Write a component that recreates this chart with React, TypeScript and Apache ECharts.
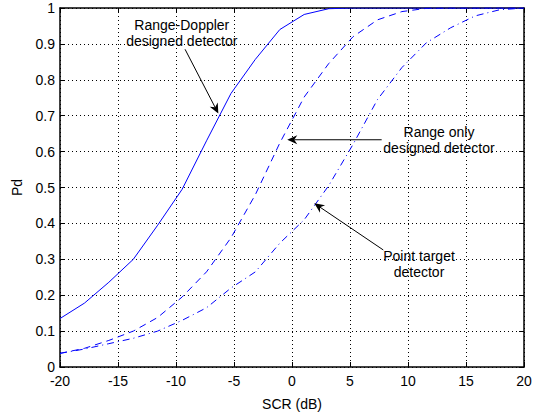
import React, { useEffect, useRef } from "react";
import * as echarts from "echarts";

const scr = [-20, -17.89, -15.79, -13.68, -11.58, -9.47, -7.37, -5.26, -3.16, -1.05, 1.05, 3.16, 5.26, 7.37, 9.47, 11.58, 13.68, 15.79, 17.89, 20];
const rangeDoppler = [0.135, 0.178, 0.236, 0.3, 0.395, 0.495, 0.63, 0.762, 0.857, 0.94, 0.982, 0.998, 1, 1, 1, 1, 1, 1, 1, 1];
const rangeOnly = [0.038, 0.052, 0.074, 0.1, 0.138, 0.195, 0.265, 0.36, 0.48, 0.624, 0.752, 0.845, 0.92, 0.967, 0.99, 0.999, 1, 1, 1, 1];
const pointTarget = [0.038, 0.05, 0.065, 0.08, 0.1, 0.13, 0.165, 0.22, 0.265, 0.345, 0.41, 0.505, 0.62, 0.745, 0.834, 0.903, 0.945, 0.978, 0.995, 1];

const xTicks = [-20, -15, -10, -5, 0, 5, 10, 15, 20];
const yTicks = [0, 0.1, 0.2, 0.3, 0.4, 0.5, 0.6, 0.7, 0.8, 0.9, 1];

// annotations in data coordinates
const annotations = [
  { lines: ["Range-Doppler", "designed detector"], at: [-9.5, 0.931], from: [-9.22, 0.885], to: [-6.35, 0.706] },
  { lines: ["Range only", "designed detector"], at: [12.67, 0.633], from: [7.73, 0.633], to: [-0.41, 0.633] },
  { lines: ["Point target", "detector"], at: [10.95, 0.288], from: [7.87, 0.326], to: [1.92, 0.456] },
];

const FONT = '"Liberation Sans", Arial, Helvetica, sans-serif';

export default function App() {
  const ref = useRef<HTMLDivElement>(null);
  useEffect(() => {
    if (!ref.current) return;
    const chart = echarts.init(ref.current, undefined, { renderer: "svg" });
    const mk = (arr: number[]) => scr.map((x, i) => [x, arr[i]]);
    const dotted = { color: "#000", width: 1, type: [1, 3] as any };
    chart.setOption({
      animation: false,
      backgroundColor: "#fff",
      textStyle: { fontFamily: FONT },
      grid: { left: 60, right: 12, top: 8, bottom: 44, containLabel: false },
      xAxis: [
        {
          type: "value", min: -20, max: 20, interval: 5, position: "bottom",
          name: "SCR (dB)", nameLocation: "middle", nameGap: 30,
          nameTextStyle: { fontSize: 14, color: "#000", fontFamily: FONT },
          axisLine: { show: true, onZero: false, lineStyle: { color: "#000", width: 1.5 } },
          axisTick: { show: true, inside: true, length: 5, lineStyle: { color: "#000" } },
          axisLabel: { fontSize: 14, lineHeight: 14, color: "#000", margin: 7, fontFamily: FONT },
          splitLine: { show: true, lineStyle: dotted },
        },
        {
          type: "value", min: -20, max: 20, interval: 5, position: "top",
          axisLine: { show: true, onZero: false, lineStyle: { color: "#000", width: 1.5 } },
          axisTick: { show: true, inside: true, length: 5, lineStyle: { color: "#000" } },
          axisLabel: { show: false },
          splitLine: { show: false },
        },
      ],
      yAxis: [
        {
          type: "value", min: 0, max: 1, interval: 0.1, position: "left",
          name: "Pd", nameLocation: "middle", nameGap: 36,
          nameTextStyle: { fontSize: 14, color: "#000", fontFamily: FONT },
          axisLine: { show: true, onZero: false, lineStyle: { color: "#000", width: 1.5 } },
          axisTick: { show: true, inside: true, length: 5, lineStyle: { color: "#000" } },
          axisLabel: { fontSize: 14, lineHeight: 13, color: "#000", margin: 5, fontFamily: FONT, formatter: (v: number) => String(Math.round(v * 10) / 10) },
          splitLine: { show: true, lineStyle: dotted },
        },
        {
          type: "value", min: 0, max: 1, interval: 0.1, position: "right",
          axisLine: { show: true, onZero: false, lineStyle: { color: "#000", width: 1.5 } },
          axisTick: { show: true, inside: true, length: 5, lineStyle: { color: "#000" } },
          axisLabel: { show: false },
          splitLine: { show: false },
        },
      ],
      series: [
        { type: "line", name: "Range-Doppler", data: mk(rangeDoppler), showSymbol: false, symbol: "none", lineStyle: { color: "#0000ff", width: 1 } },
        { type: "line", name: "Range only", data: mk(rangeOnly), showSymbol: false, symbol: "none", lineStyle: { color: "#0000ff", width: 1, type: [7, 5] } },
        { type: "line", name: "Point target", data: mk(pointTarget), showSymbol: false, symbol: "none", lineStyle: { color: "#0000ff", width: 1, type: [7, 4, 1, 4] } },
      ],
    });

    const px = (p: number[]) => chart.convertToPixel({ gridIndex: 0 }, p) as number[];
    const graphics: any[] = [];
    annotations.forEach((a) => {
      const c = px(a.at);
      a.lines.forEach((t, i) => {
        graphics.push({
          type: "text", x: c[0], y: c[1] + (i - (a.lines.length - 1) / 2) * 16,
          style: { text: t, fill: "#000", font: `14px ${FONT}`, align: "center", verticalAlign: "middle" },
          z: 100,
        });
      });
      const f = px(a.from);
      const tp = px(a.to);
      const dx = tp[0] - f[0], dy = tp[1] - f[1];
      const len = Math.hypot(dx, dy);
      const ux = dx / len, uy = dy / len;
      const nx = -uy, ny = ux;
      const L = 10, W = 4.5, notch = 7;
      const back = [tp[0] - ux * L, tp[1] - uy * L];
      graphics.push({
        type: "line", shape: { x1: f[0], y1: f[1], x2: tp[0] - ux * notch, y2: tp[1] - uy * notch },
        style: { stroke: "#000", lineWidth: 1 }, z: 100,
      });
      graphics.push({
        type: "polygon",
        shape: { points: [
          [tp[0], tp[1]],
          [back[0] + nx * W, back[1] + ny * W],
          [tp[0] - ux * notch, tp[1] - uy * notch],
          [back[0] - nx * W, back[1] - ny * W],
        ] },
        style: { fill: "#000" }, z: 100,
      });
    });
    chart.setOption({ graphic: graphics });
    return () => chart.dispose();
  }, []);
  return <div ref={ref} style={{ position: "fixed", left: 0, top: 0, width: 536, height: 416, background: "#fff" }} />;
}
